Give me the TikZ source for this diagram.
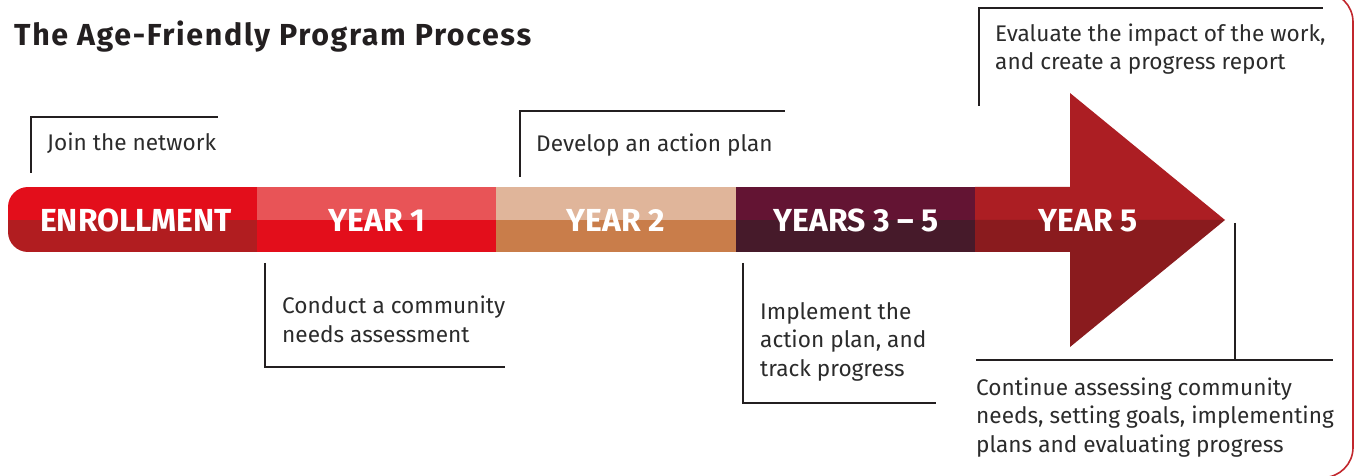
\documentclass[tikz,border=0pt]{standalone}
\usepackage{fontspec}
\setmainfont{Fira Sans}
\definecolor{framered}{HTML}{C1272D}
\definecolor{linegray}{HTML}{231F20}
\definecolor{textgray}{HTML}{2B2B2B}
\definecolor{enrT}{HTML}{E30E1B}
\definecolor{enrB}{HTML}{B11D20}
\definecolor{y1T}{HTML}{E85457}
\definecolor{y1B}{HTML}{E30E1B}
\definecolor{y2T}{HTML}{E0B59A}
\definecolor{y2B}{HTML}{C97D4A}
\definecolor{y3T}{HTML}{631433}
\definecolor{y3B}{HTML}{461A2A}
\definecolor{y5T}{HTML}{AC1E23}
\definecolor{y5B}{HTML}{8A1B1E}
\begin{document}
\begin{tikzpicture}[x=1bp,y=-1bp,
  bracket/.style={draw=linegray, line width=2bp},
  note/.style={anchor=base west, align=left, inner sep=0pt, text=textgray,
    font=\fontsize{22.7}{28.6}\selectfont},
  barlabel/.style={anchor=base, inner sep=0pt, text=white,
    font=\bfseries\fontsize{32}{32}\selectfont}]
\useasboundingbox (0,0) rectangle (1355,476);
\begin{scope}
\clip (0,0) rectangle (1355,476);
\draw[framered, line width=1.6bp, rounded corners=30bp] (-40,-8) rectangle (1353,477.5);
\end{scope}
% title
\node[anchor=base west, inner sep=0pt, text=linegray, font=\bfseries\fontsize{30.5}{32}\selectfont\addfontfeatures{LetterSpace=5.5}] (title) at (14,46) {The Age-Friendly Program Process};
% bar segments
\begin{scope}
\clip[rounded corners=20bp] (8,187) rectangle (300,252);
\fill[enrT] (8,187) rectangle (257,220);
\fill[enrB] (8,220) rectangle (257,252);
\end{scope}
\fill[y1T] (257,187) rectangle (496,220);
\fill[y1B] (257,220) rectangle (496,252);
\fill[y2T] (496,187) rectangle (736,220);
\fill[y2B] (496,220) rectangle (736,252);
\fill[y3T] (736,187) rectangle (976,220);
\fill[y3B] (736,220) rectangle (976,252);
\fill[y5T] (975,187) -- (1070,187) -- (1070,93) -- (1225,220) -- (975,220) -- cycle;
\fill[y5B] (975,220) -- (1225,220) -- (1070,347) -- (1070,252) -- (975,252) -- cycle;
% bar labels
\node[barlabel] (enr) at (136,232) {ENROLLMENT};
\node[barlabel] (yr1) at (377,232) {YEAR 1};
\node[barlabel] (yr2) at (616,232) {YEAR 2};
\node[barlabel] (yr35) at (856,232) {YEARS 3 – 5};
\node[barlabel] (yr5) at (1088,232) {YEAR 5};
% notes (base anchor = baseline of last line)
\node[note] (n1) at (47,151) {Join the network};
\node[note] (n2) at (536,152) {Develop an action plan};
\node[note] (n3) at (995,70) {Evaluate the impact of the work,\\and create a progress report};
\node[note] (n4) at (282,342) {Conduct a community\\needs assessment};
\node[note] (n5) at (760,376) {Implement the\\action plan, and\\track progress};
\node[note] (n6) at (976,452) {Continue assessing community\\needs, setting goals, implementing\\plans and evaluating progress};
% brackets
\coordinate (a1) at (31,173); \coordinate (b1) at (31,117); \coordinate (c1) at (218,117);
\coordinate (a2) at (520,177); \coordinate (b2) at (520,111); \coordinate (c2) at (785,111);
\coordinate (a3) at (979,106); \coordinate (b3) at (979,8); \coordinate (c3) at (1323,8);
\coordinate (a4) at (265,263); \coordinate (b4) at (265,367); \coordinate (c4) at (505,367);
\coordinate (a5) at (743,263); \coordinate (b5) at (743,403); \coordinate (c5) at (936,403);
\coordinate (a6) at (1235,223); \coordinate (b6) at (1235,360); \coordinate (c6) at (976,360); \coordinate (d6) at (1333,360);
\draw[bracket] (a1) -- (b1) -- (c1);
\draw[bracket] (a2) -- (b2) -- (c2);
\draw[bracket] (a3) -- (b3) -- (c3);
\draw[bracket] (a4) -- (b4) -- (c4);
\draw[bracket] (a5) -- (b5) -- (c5);
\draw[bracket] (a6) -- (b6);
\draw[bracket] (c6) -- (d6);
\end{tikzpicture}
\end{document}
